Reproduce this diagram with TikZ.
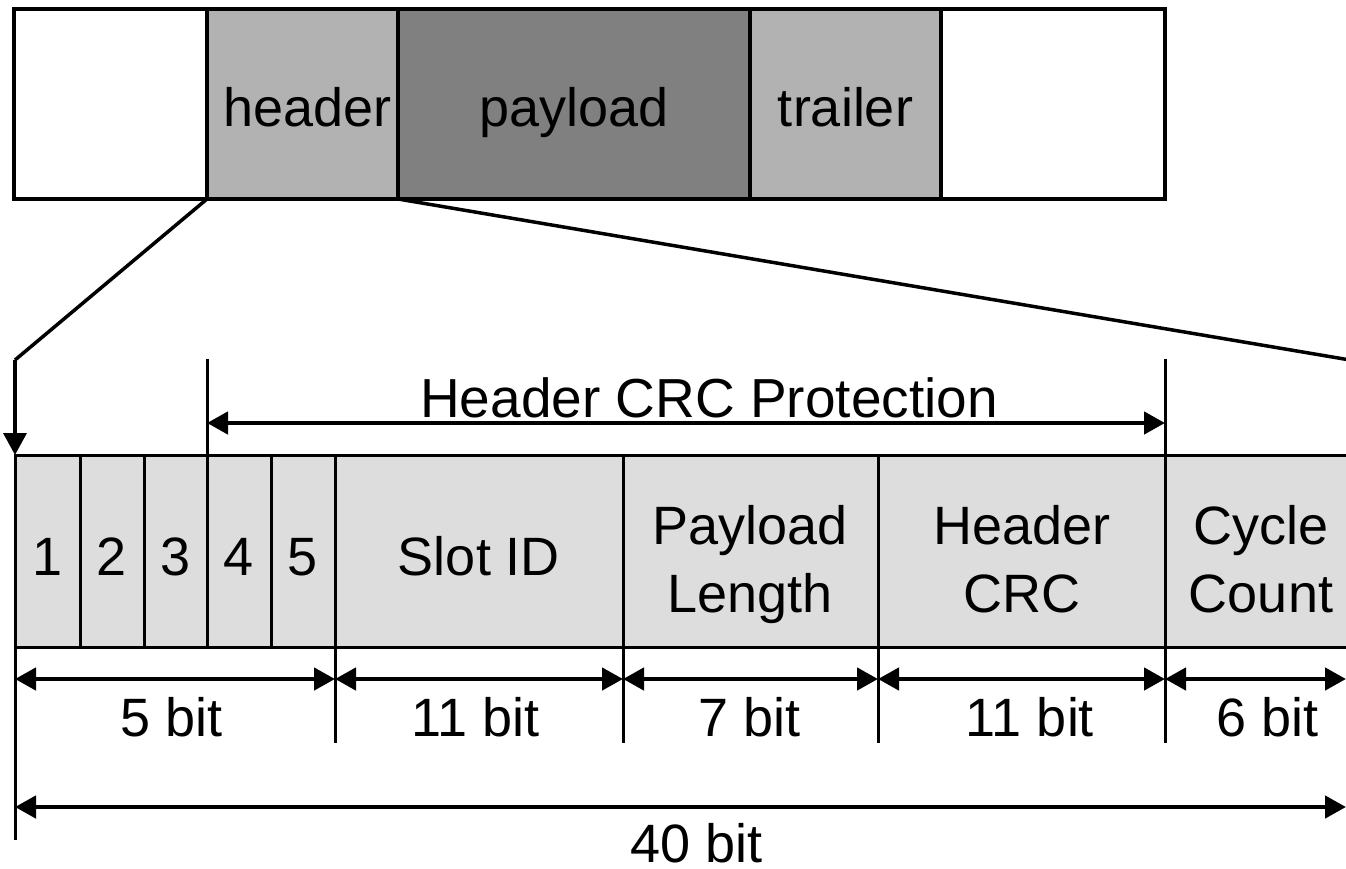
\documentclass[tikz,border=0pt]{standalone}
\usepackage{fontspec}
\setmainfont{Liberation Sans}
\usetikzlibrary{arrows.meta}
\definecolor{hdrgray}{RGB}{178,178,178}
\definecolor{paygray}{RGB}{128,128,128}
\definecolor{fieldgray}{RGB}{221,221,221}
\begin{document}
\begin{tikzpicture}[x=1pt,y=-1pt,
  every node/.style={font=\fontsize{54}{68}\selectfont},
  blk/.style={draw, line width=3.5pt, inner sep=0pt, outer sep=0pt, anchor=north west,
              minimum height=190pt, text height=46pt, text depth=0pt},
  fld/.style={draw, fill=fieldgray, line width=3pt, inner sep=0pt, outer sep=0pt, anchor=north west,
              minimum height=192pt, text height=48pt, text depth=0pt},
  fld2/.style={draw, fill=fieldgray, line width=3pt, inner sep=0pt, outer sep=0pt, anchor=north west,
              minimum height=192pt},
  lbl/.style={anchor=base, inner sep=0pt},
  twolbl/.style={anchor=center, inner sep=0pt, align=center},
  conn/.style={line width=3.5pt},
  tip/.style={-{Triangle[length=22pt,width=23pt]}},
  dim/.style={line width=4.5pt, {Triangle[length=21pt,width=22pt]}-{Triangle[length=21pt,width=22pt]}},
  tick/.style={line width=3pt},
]
\useasboundingbox (0,0) rectangle (1346,869);
\clip (0,0) rectangle (1346,869);

% top frame
\node[blk, minimum width=193pt] (e1) at (14,9) {};
\node[blk, fill=hdrgray, minimum width=191pt] (hdr) at (207,9) {\hspace{10pt}header};
\node[blk, fill=paygray, minimum width=352pt] (pay) at (398,9) {payload};
\node[blk, fill=hdrgray, minimum width=191pt] (trl) at (750,9) {trailer};
\node[blk, minimum width=224pt] (e2) at (941,9) {};

% header fields
\node[fld, minimum width=65pt] (f1) at (15,455) {1};
\node[fld, minimum width=64pt] (f2) at (80,455) {2};
\node[fld, minimum width=63pt] (f3) at (144,455) {3};
\node[fld, minimum width=64pt] (f4) at (207,455) {4};
\node[fld, minimum width=64pt] (f5) at (271,455) {5};
\node[fld, minimum width=288pt] (slot) at (335,455) {Slot ID};
\node[fld2, minimum width=255pt] (plen) at (623,455) {};
\node[fld2, minimum width=287pt] (hcrc) at (878,455) {};
\node[fld2, minimum width=193pt] (cyc) at (1165,455) {};
\node[twolbl] (plenl) at (750,565) {\strut Payload\\\strut Length};
\node[twolbl] (hcrcl) at (1022,565) {\strut Header\\\strut CRC};
\node[twolbl] (cycl) at (1261,565) {\strut Cycle\\\strut Count};

% zoom connectors
\coordinate (c1) at (15,360);
\coordinate (c2) at (1350,360);
\draw[conn] (hdr.south west) -- (c1);
\draw[conn, tip] (c1) -- (f1.north west);
\draw[conn] (hdr.south east) -- (c2);

% header CRC protection
\coordinate (t1) at (207,359);
\coordinate (t2) at (1165,359);
\draw[tick] (t1) -- (f4.north west);
\draw[tick] (t2) -- (cyc.north west);
\coordinate (a1) at (207,423);
\coordinate (a2) at (1165,423);
\draw[dim] (a1) -- (a2);
\node[lbl, font=\fontsize{55}{68}\selectfont] (crcl) at (709,417) {Header CRC Protection};

% bottom extension lines
\coordinate (b0) at (15,840);
\coordinate (b1) at (335,743);
\coordinate (b2) at (623,743);
\coordinate (b3) at (878,743);
\coordinate (b4) at (1165,743);
\draw[tick] (f1.south west) -- (b0);
\draw[tick] (slot.south west) -- (b1);
\draw[tick] (plen.south west) -- (b2);
\draw[tick] (hcrc.south west) -- (b3);
\draw[tick] (cyc.south west) -- (b4);

% dimension arrows
\coordinate (d0) at (15,679);
\coordinate (d1) at (335,679);
\coordinate (d2) at (623,679);
\coordinate (d3) at (878,679);
\coordinate (d4) at (1165,679);
\coordinate (d5) at (1346,679);
\draw[dim] (d0) -- (d1);
\draw[dim] (d1) -- (d2);
\draw[dim] (d2) -- (d3);
\draw[dim] (d3) -- (d4);
\draw[dim] (d4) -- (d5);
\node[lbl] (w1) at (172,736) {5 bit};
\node[lbl] (w2) at (476,736) {11 bit};
\node[lbl] (w3) at (750,736) {7 bit};
\node[lbl] (w4) at (1030,736) {11 bit};
\node[lbl] (w5) at (1268,736) {6 bit};

\coordinate (e0) at (15,807);
\coordinate (eN) at (1346,807);
\draw[dim] (e0) -- (eN);
\node[lbl] (tot) at (697,862) {40 bit};
\end{tikzpicture}
\end{document}
